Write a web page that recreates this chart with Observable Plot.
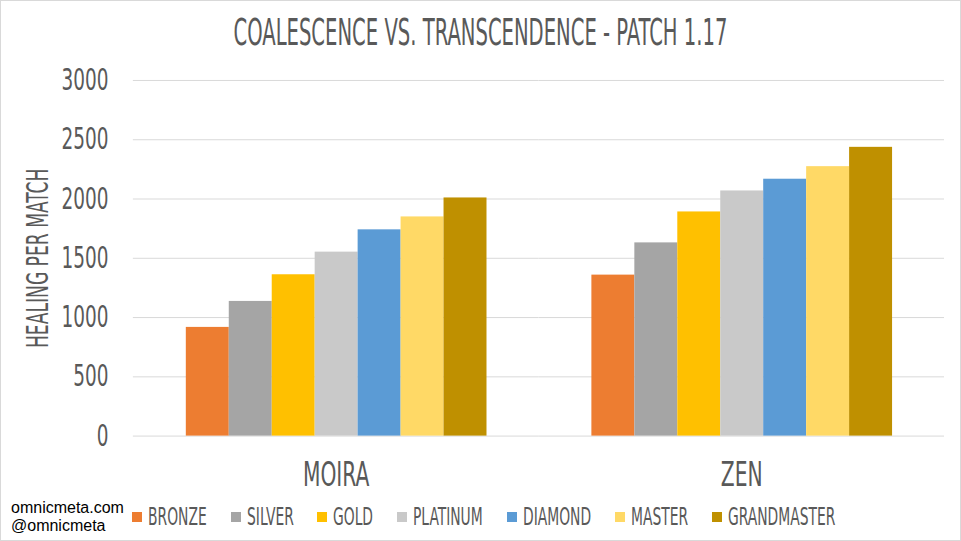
<!DOCTYPE html>
<html><head><meta charset="utf-8">
<script src="https://cdn.jsdelivr.net/npm/d3@7"></script>
<script src="https://cdn.jsdelivr.net/npm/@observablehq/plot@0.6"></script>
<style>
html,body{margin:0;padding:0;background:#fff;}
#wrap{position:relative;width:961px;height:541px;box-sizing:border-box;border:1px solid #d9d9d9;overflow:hidden;
  font-family:"Liberation Sans Narrow","DejaVu Sans Condensed","DejaVu Sans",sans-serif;color:#595959;background:#fff;}
#title{position:absolute;left:0;right:0;top:13px;text-align:center;font-size:37px;line-height:1;white-space:nowrap;}
#title span{display:inline-block;transform-origin:center;}
#chart{position:absolute;left:-1px;top:59px;}
#legend{position:absolute;left:131px;top:503px;height:26px;display:flex;align-items:center;white-space:nowrap;}
.item{display:flex;align-items:center;margin-right:24px;}
.sw{width:10px;height:10px;margin-right:6px;flex:none;}
.lab{display:inline-block;font-size:25px;line-height:26px;transform-origin:left center;}
#credits{position:absolute;left:10px;top:498px;font-family:"Liberation Sans",Arial,sans-serif;font-size:16px;line-height:18px;color:#000;}
</style></head><body><div id="wrap"><div id="title"></div><div id="chart"></div><div id="legend"></div><div id="credits"></div></div>
<script>
const titleText = "COALESCENCE VS. TRANSCENDENCE - PATCH 1.17";
const yLabel = "HEALING PER MATCH";
const heroes = ["MOIRA", "ZEN"];
const ranks = ["BRONZE", "SILVER", "GOLD", "PLATINUM", "DIAMOND", "MASTER", "GRANDMASTER"];
const rankColors = ["#ED7D31", "#A5A5A5", "#FFC000", "#C9C9C9", "#5B9BD5", "#FFD966", "#BF9000"];
const moiraHealing = [917, 1136, 1361, 1552, 1740, 1849, 2009];
const zenHealing = [1358, 1630, 1891, 2068, 2167, 2273, 2436];
const yTicks = [0, 500, 1000, 1500, 2000, 2500, 3000];
const credits = ["omnicmeta.com", "@omnicmeta"];

const FONT = '"Liberation Sans Narrow","DejaVu Sans Condensed","DejaVu Sans",sans-serif';
const series = [moiraHealing, zenHealing];
const data = heroes.flatMap((h, i) => ranks.map((r, j) => ({hero: h, rank: r, value: series[i][j]})));

const chart = Plot.plot({
  width: 961, height: 441,
  marginLeft: 133, marginRight: 16, marginTop: 20, marginBottom: 65,
  style: {fontFamily: FONT, color: "#595959", background: "transparent", overflow: "visible"},
  fx: {domain: heroes, padding: 0},
  x: {domain: ranks, paddingInner: 0, paddingOuter: 1.22, axis: null},
  y: {domain: [0, 3000]},
  color: {domain: ranks, range: rankColors},
  marks: [
    Plot.gridY(yTicks, {stroke: "#d9d9d9", strokeOpacity: 1, strokeWidth: 1}),
    Plot.barY(data, {fx: "hero", x: "rank", y: "value", fill: "rank"}),
    Plot.axisY(yTicks, {tickSize: 0, tickPadding: 25, fontSize: 30, tickFormat: d => String(d), label: yLabel, labelAnchor: "center", labelOffset: 107, labelArrow: "none"}),
    Plot.axisFx({anchor: "bottom", tickSize: 0, tickPadding: 26, fontSize: 34, label: null})
  ]
});
document.getElementById("chart").appendChild(chart);

// condense text to mimic the narrow display face
let k = 0.75;
const ref = Array.from(chart.querySelectorAll("text")).find(t => t.textContent === "3000");
if (ref) { const L = ref.getComputedTextLength(); if (L > 0) k = 47 / L; }
chart.querySelectorAll("text").forEach(t => {
  const L = t.getComputedTextLength();
  const f = t.textContent === yLabel ? k * 0.93 : (heroes.includes(t.textContent) ? k * 0.97 : k);
  if (L > 0) { t.setAttribute("textLength", L * f); t.setAttribute("lengthAdjust", "spacingAndGlyphs"); }
});
const kTitle = k * 0.86;
const kLegend = k * 0.9;

const titleEl = document.getElementById("title");
const ts = document.createElement("span");
ts.textContent = titleText;
titleEl.appendChild(ts);
ts.style.transform = `scaleX(${kTitle})`;

const legend = document.getElementById("legend");
ranks.forEach((r, i) => {
  const item = document.createElement("div"); item.className = "item";
  const sw = document.createElement("div"); sw.className = "sw"; sw.style.background = rankColors[i];
  const lab = document.createElement("span"); lab.className = "lab"; lab.textContent = r;
  item.appendChild(sw); item.appendChild(lab); legend.appendChild(item);
  const w = lab.getBoundingClientRect().width;
  lab.style.width = (w * kLegend) + "px";
  lab.style.transform = `scaleX(${kLegend})`;
});

const cr = document.getElementById("credits");
credits.forEach(c => { const d = document.createElement("div"); d.textContent = c; cr.appendChild(d); });
</script>
</body></html>
